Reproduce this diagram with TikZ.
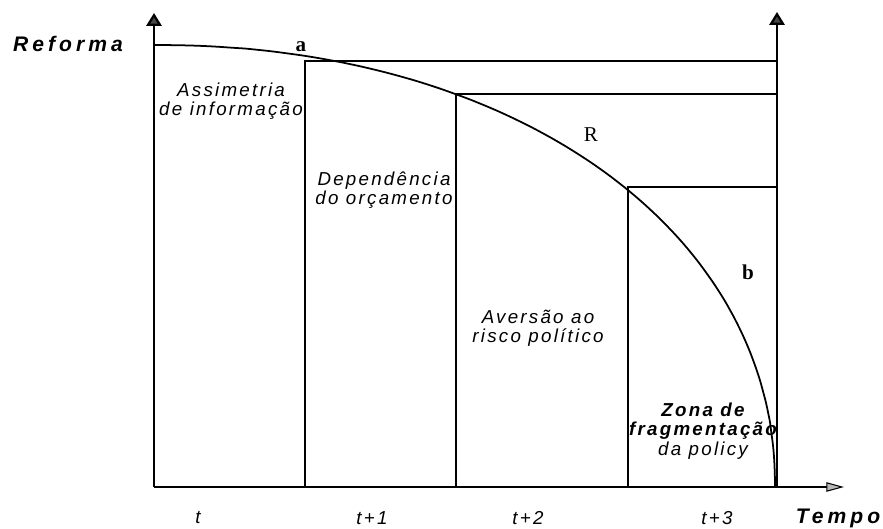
\documentclass[tikz,border=0pt]{standalone}
\usepackage{fontspec}
\setmainfont{Liberation Sans}
\newfontfamily\widefont[LetterSpace=12]{Liberation Sans}
\newfontfamily\widerfont[LetterSpace=19]{Liberation Sans}
\newfontfamily\lblfont{Liberation Serif}
\usetikzlibrary{arrows.meta}
\begin{document}
\begin{tikzpicture}[x=0.03cm,y=-0.03cm,
  axis/.style={line width=1.9pt},
  boxline/.style={line width=1.4pt},
  curveline/.style={line width=1.5pt},
  uparrow/.style={-{Triangle[width=13pt,length=11pt,fill=gray!55!black]}},
  rightarrow/.style={-{Triangle[width=8pt,length=15pt,fill=gray!55,line width=0.9pt]}},
  boxtext/.style={font=\widefont\itshape\fontsize{16}{16.5}\selectfont, align=center, inner sep=0pt},
  ticktext/.style={font=\widefont\itshape\fontsize{16}{16.5}\selectfont, inner sep=0pt},
  axistext/.style={font=\widerfont\bfseries\itshape\fontsize{18}{20}\selectfont, inner sep=0pt},
  curvelbl/.style={font=\lblfont\fontsize{18}{20}\selectfont, inner sep=0pt},
  curvelblb/.style={font=\lblfont\bfseries\fontsize{18}{20}\selectfont, inner sep=0pt}
]
\useasboundingbox (0,0) rectangle (883,529);

% key coordinates
\coordinate (O) at (154,487);
\coordinate (Ltop) at (154,13);
\coordinate (Rbot) at (777,487);
\coordinate (Rtop) at (777,12);
\coordinate (Xend) at (844,487);
\coordinate (Ctop) at (154,45);
\coordinate (Cend) at (775,487);

\coordinate (b1bot) at (305,487);
\coordinate (b1top) at (305,61);
\coordinate (b1end) at (777,61);
\coordinate (b2bot) at (456,487);
\coordinate (b2top) at (456,94);
\coordinate (b2end) at (777,94);
\coordinate (b3bot) at (628,487);
\coordinate (b3top) at (628,187);
\coordinate (b3end) at (777,187);

% boxes
\draw[boxline] (b1bot) -- (b1top) -- (b1end);
\draw[boxline] (b2bot) -- (b2top) -- (b2end);
\draw[boxline] (b3bot) -- (b3top) -- (b3end);

% curve R (superellipse)
\draw[curveline] (Ctop) -- plot[domain=89.5:0.5, samples=90, smooth]
  ({154+621*(cos(\x))^0.952},{487-442*(sin(\x))^0.952}) -- (Cend);

% axes
\draw[axis,uparrow] (O) -- (Ltop);
\draw[axis,uparrow] (Rbot) -- (Rtop);
\draw[axis,rightarrow] (O) -- (Xend);

% axis labels
\node[axistext] (reforma) at (68,44) {Reforma};
\node[axistext] (tempo) at (838,518) {Tempo};

% ticks
\node[ticktext] (t0) at (198,518) {t};
\node[ticktext] (t1) at (372,518) {t+1};
\node[ticktext] (t2) at (528,518) {t+2};
\node[ticktext] (t3) at (717,518) {t+3};

% curve labels
\node[curvelblb] (la) at (301,47) {a};
\node[curvelbl] (lR) at (591,135) {R};
\node[curvelblb] (lb) at (748,272) {b};

% box texts
\node[boxtext] (z1) at (231,101) {Assimetria\\de informação};
\node[boxtext] (z2) at (384,190) {Dependência\\do orçamento};
\node[boxtext] (z3) at (538,328) {Aversão ao\\risco político};
\node[boxtext] (z4) at (703,431) {\bfseries Zona de\\\bfseries fragmentação\\da policy};
\end{tikzpicture}
\end{document}
